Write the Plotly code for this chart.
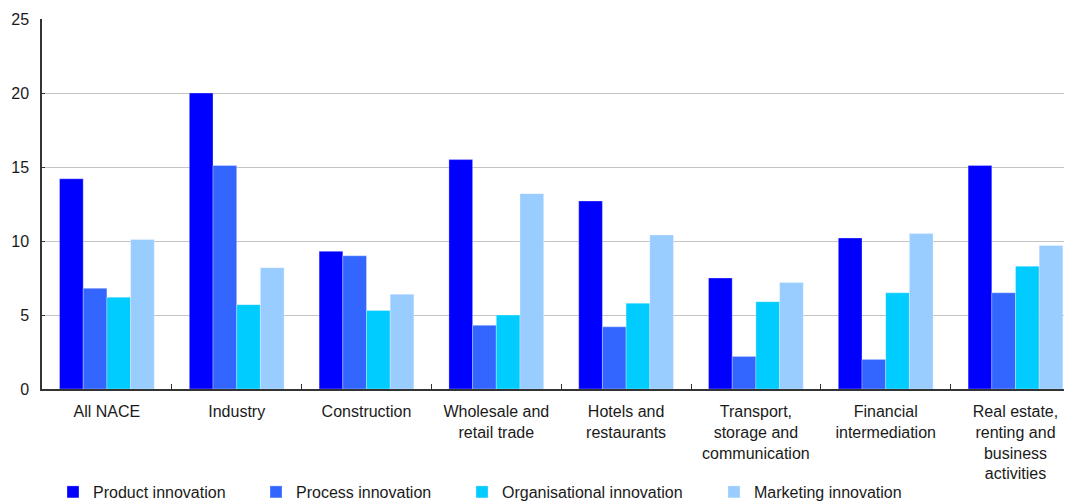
import plotly.graph_objects as go

categories = ["All NACE", "Industry", "Construction", "Wholesale and<br>retail trade",
              "Hotels and<br>restaurants", "Transport,<br>storage and<br>communication",
              "Financial<br>intermediation", "Real estate,<br>renting and<br>business<br>activities"]
product = [14.2, 20.0, 9.3, 15.5, 12.7, 7.5, 10.2, 15.1]
process = [6.8, 15.1, 9.0, 4.3, 4.2, 2.2, 2.0, 6.5]
organisational = [6.2, 5.7, 5.3, 5.0, 5.8, 5.9, 6.5, 8.3]
marketing = [10.1, 8.2, 6.4, 13.2, 10.4, 7.2, 10.5, 9.7]

series_names = ["Product innovation", "Process innovation", "Organisational innovation", "Marketing innovation"]
series_vals = [product, process, organisational, marketing]
colors = ["#0000FF", "#3366FF", "#00CCFF", "#99CCFF"]
legend_ids = ["legend", "legend2", "legend3", "legend4"]
legend_px = [53, 256, 462, 714]   # target left edge in viewport px

OFF = 8  # page body margin
W, H = 1072 - OFF, 504 - OFF
ml, mt, mb, mr = 42 - OFF, 19 - OFF, 115, 0
pw = W - ml - mr
ph = H - mt - mb
plot_bottom = 389

fig = go.Figure()
for name, vals, col, lid in zip(series_names, series_vals, colors, legend_ids):
    fig.add_trace(go.Bar(x=categories, y=vals, name=name, marker_color=col,
                         marker_line_width=0.6, marker_line_color="rgba(255,255,255,0.5)",
                         legend=lid))

font = dict(family="Liberation Sans, Arial, sans-serif", size=16, color="#1a1a1a")
layout_legends = {}
for lid, px in zip(legend_ids, legend_px):
    layout_legends[lid] = dict(orientation="h", x=(px - 42) / pw, xanchor="left",
                               y=-(475 - plot_bottom) / ph, yanchor="top",
                               font=font, bgcolor="rgba(0,0,0,0)", itemwidth=30,
                               tracegroupgap=0)

fig.update_layout(
    width=W, height=H,
    margin=dict(l=ml, r=mr, t=mt, b=mb, autoexpand=False),
    paper_bgcolor="white", plot_bgcolor="white",
    barmode="group", bargap=0.27, bargroupgap=0,
    font=font,
    showlegend=True,
    **layout_legends,
)
fig.update_xaxes(range=[-0.5, -0.5 + pw / 129.8], tickson="boundaries", ticks="inside",
                 ticklen=5, tickcolor="#333333", showline=True, linecolor="#333333",
                 linewidth=1.5, showgrid=False, tickfont=font, tickangle=0,
                 ticklabelstandoff=7)
fig.update_yaxes(range=[0, 25], tick0=0, dtick=5, showgrid=True, gridcolor="#c4c4c4",
                 gridwidth=1.2, showline=True, linecolor="#333333", linewidth=1.5,
                 ticks="inside", ticklen=3, tickcolor="#333333", tickfont=font,
                 zeroline=False, ticklabelstandoff=8)

fig.write_html("out.html")
